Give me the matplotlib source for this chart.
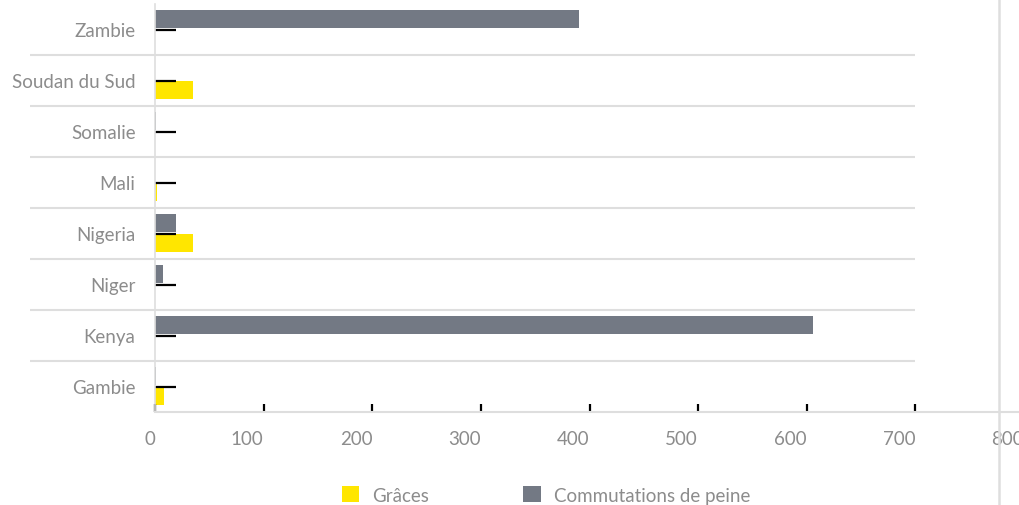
import matplotlib
matplotlib.use("Agg")
import matplotlib.pyplot as plt
from matplotlib.lines import Line2D
import numpy as np

plt.rcParams['font.family'] = ['Lato', 'DejaVu Sans']

# categories, top to bottom
pays = ["Zambie", "Soudan du Sud", "Somalie", "Mali", "Nigeria", "Niger", "Kenya", "Gambie"]
graces = [0, 35, 0, 2, 35, 0, 0, 8.5]
commutations = [390, 0, 1, 0, 19.5, 7.5, 606, 1]
xticks = [0, 100, 200, 300, 400, 500, 600, 700, 800]

jaune = "#ffe600"
gris = "#737984"
texte = "#8c8c8c"
ligne = "#dedede"

fig = plt.figure(figsize=(10.2, 5.06), dpi=100)
ax = fig.add_axes([155 / 1020, 93 / 506, 869 / 1020, 408 / 506])

y = np.arange(len(pays))
h = 0.35
ax.barh(y - 0.21, commutations, height=h, color=gris, label="Commutations de peine")
ax.barh(y + 0.19, graces, height=h, color=jaune, label="Grâces")

ax.set_ylim(len(pays) - 0.5, -0.5)
ax.set_xlim(0, 800)
ax.set_yticks(y)
ax.set_yticklabels(pays)
ax.set_xticks(xticks)
ax.set_xticklabels([str(v) for v in xticks], ha="right")

fs = 13.5
ax.tick_params(axis="y", direction="in", length=15, width=1.6, color="black",
               labelsize=fs, labelcolor=texte, pad=14)
ax.tick_params(axis="x", direction="in", length=6, width=1.6, color="black",
               labelsize=fs, labelcolor=texte, pad=13)

for s in ["top", "right"]:
    ax.spines[s].set_visible(False)
ax.spines["left"].set_color(ligne)
ax.spines["bottom"].set_color(ligne)
ax.spines["left"].set_linewidth(1.2)
ax.spines["bottom"].set_linewidth(1.5)

# separators between countries, running out into the label area
ax.hlines(y[:-1] + 0.5, -0.144, 0.875, transform=ax.get_yaxis_transform(),
          color=ligne, lw=1.5, clip_on=False, zorder=0)

fig.add_artist(Line2D([999 / 1020, 999 / 1020], [0, 1], color=ligne, lw=1.8))

handles, labels = ax.get_legend_handles_labels()
leg = fig.legend(handles[::-1], labels[::-1], loc="center", ncol=2,
                 bbox_to_anchor=(546 / 1020, 10 / 506), frameon=False,
                 fontsize=fs, handlelength=0.95, handleheight=0.95,
                 handletextpad=0.7, columnspacing=5.0, labelcolor=texte)

fig.savefig("out.png", dpi=100)
